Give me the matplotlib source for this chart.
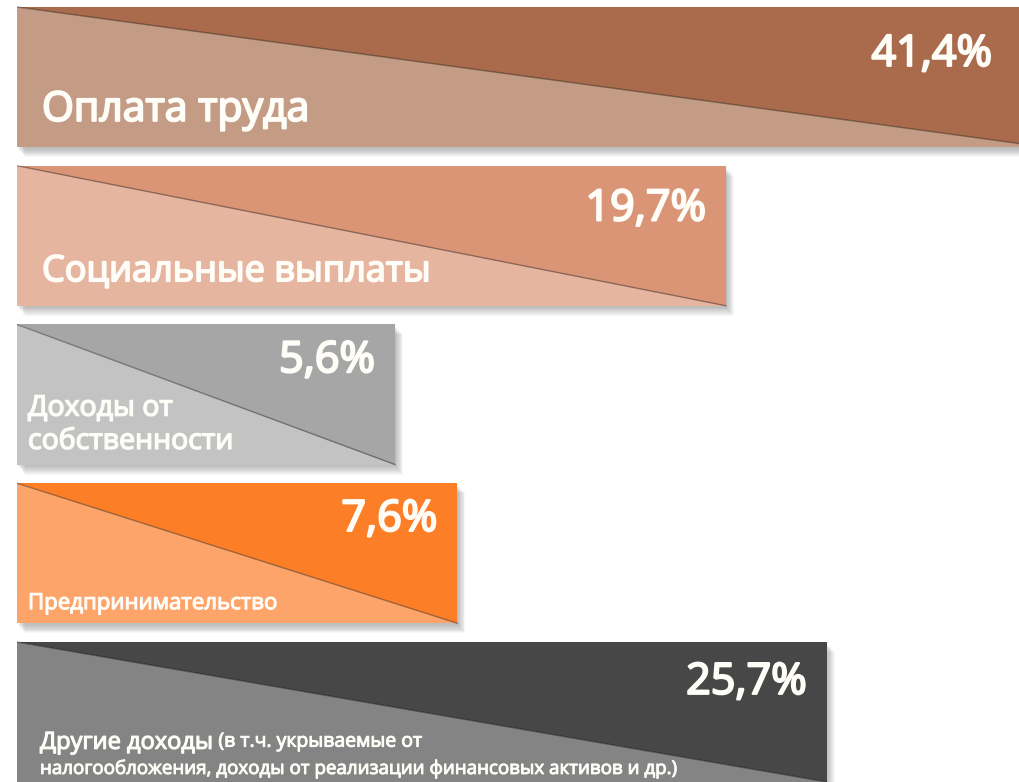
import numpy as np
import matplotlib
matplotlib.use("Agg")
import matplotlib.pyplot as plt
import matplotlib.patheffects as pe
from matplotlib.patches import Polygon, Rectangle
from matplotlib.transforms import offset_copy

# data
categories = ["Оплата труда", "Социальные выплаты", "Доходы от\nсобственности",
              "Предпринимательство", "Другие доходы"]
shares = [41.4, 19.7, 5.6, 7.6, 25.7]
share_labels = ["41,4%", "19,7%", "5,6%", "7,6%", "25,7%"]
note_line1 = " (в т.ч. укрываемые от"
note_line2 = "налогообложения, доходы от реализации финансовых активов и др.)"

light_colors = ["#C49B84", "#E6B5A0", "#C3C3C3", "#FDA46A", "#848484"]
dark_colors = ["#A96B4B", "#DA9577", "#A6A6A6", "#FC7F27", "#474747"]

# label style per bar: font size, vertical position (fraction of bar height), x offset in px
label_size = [29.5, 26, 20.5, 16, 17]
label_ypos = [0.74, 0.76, 0.72, 0.86, 0.72]
label_xoff = [25, 25, 11, 11, 23]
pct_ypos = [0.34, 0.31, 0.26, 0.26, 0.29]

plt.rcParams['font.family'] = ['Open Sans', 'DejaVu Sans']
TXT = "#FFFDF8"


def semi(size):
    # fake semibold: regular weight plus a thin stroke in the same colour
    return [pe.withStroke(linewidth=size * 0.05, foreground=TXT)]


def fwd(v):
    return np.sqrt(np.clip(v, 0, None))


def inv(u):
    return np.asarray(u) ** 2


fig = plt.figure(figsize=(10.2, 7.82), dpi=100)
ax = fig.add_axes([17 / 1020, 0, 1 - 17 / 1020, 1])
ax.set_xscale('function', functions=(fwd, inv))
ax.set_xlim(0, 39.44)
ax.set_ylim(4.441, -0.485)
ax.axis('off')

h = 0.882
px = 72 / 100  # points per pixel

for i, v in enumerate(shares):
    top, bot = i - h / 2, i + h / 2

    # soft shadow to the right and below
    for k in range(1, 11):
        tr = offset_copy(ax.transData, fig=fig, x=k * 0.8, y=-k * 0.9 - 1, units='dots')
        ax.add_patch(Rectangle((0, top), v, h, transform=tr, facecolor='#6A6A6A',
                               edgecolor='none', alpha=0.05, zorder=1))

    ax.add_patch(Polygon([(0, top), (0, bot), (v, bot)], closed=True,
                         facecolor=light_colors[i], edgecolor='none', zorder=2))
    ax.add_patch(Polygon([(0, top), (v, top), (v, bot)], closed=True,
                         facecolor=dark_colors[i], edgecolor='none', zorder=2))
    ax.plot([0, v], [top, bot], color='black', lw=1.0, alpha=0.35, zorder=3)

    # percentage at the right end
    xend = min(v, ax.get_xlim()[1])
    ax.annotate(share_labels[i], xy=(xend, top + pct_ypos[i] * h),
                xytext=(-20 * px - (8 * px if i == 0 else 0), 0),
                textcoords='offset points', ha='right', va='center',
                fontsize=31, color=TXT, path_effects=semi(31), zorder=5)

    # category label
    t = ax.annotate(categories[i], xy=(0, top + label_ypos[i] * h),
                    xytext=(label_xoff[i] * px, 0), textcoords='offset points',
                    ha='left', va='center', fontsize=label_size[i],
                    color=TXT, linespacing=1.25, path_effects=semi(label_size[i]), zorder=5)
    if i == 4:
        ax.annotate(note_line1, xy=(1, 0), xycoords=t, xytext=(0, 3.0),
                    textcoords='offset points', ha='left', va='bottom',
                    fontsize=14, color=TXT, path_effects=semi(14), zorder=5)
        ax.annotate(note_line2, xy=(0, top + 0.905 * h), xytext=(label_xoff[i] * px, 0),
                    textcoords='offset points', ha='left', va='center',
                    fontsize=13.5, color=TXT, path_effects=semi(13.5), zorder=5)

fig.savefig("out.png", dpi=100, facecolor='white')
